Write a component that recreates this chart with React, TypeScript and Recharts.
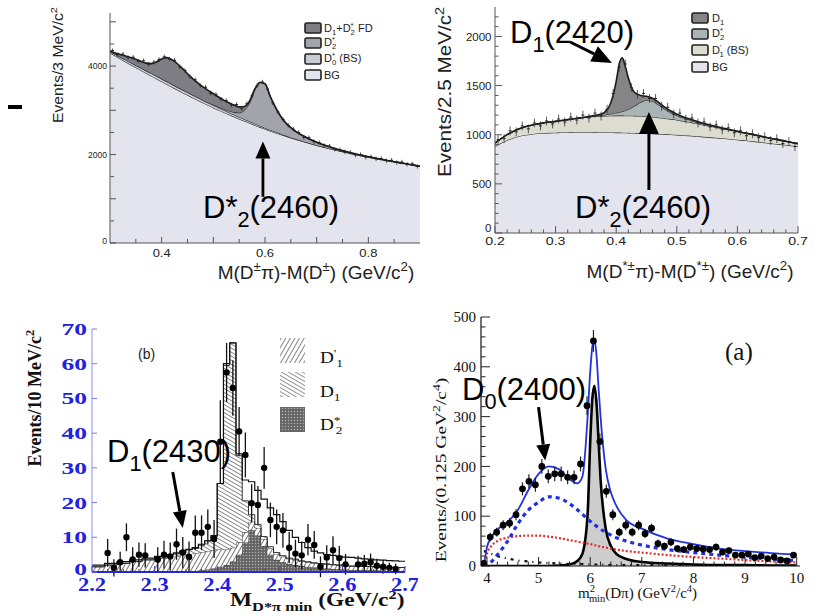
import React from 'react';
import { ComposedChart, Area, Line, Scatter, ErrorBar, XAxis, YAxis, ReferenceLine } from 'recharts';

const SANS = '"Liberation Sans", Arial, Helvetica, sans-serif';
const SERIF = '"Liberation Serif", "Times New Roman", serif';

// ---------- top left: M(D±π)-M(D±) ----------
const tlX = [0.30, 0.31, 0.32, 0.33, 0.34, 0.35, 0.36, 0.37, 0.38, 0.39, 0.40, 0.41, 0.42, 0.43, 0.44, 0.45, 0.46, 0.47, 0.48, 0.49, 0.50, 0.51, 0.52, 0.53, 0.54, 0.55, 0.56, 0.57, 0.58, 0.59, 0.60, 0.61, 0.62, 0.63, 0.64, 0.65, 0.66, 0.67, 0.68, 0.69, 0.70, 0.71, 0.72, 0.73, 0.74, 0.75, 0.76, 0.77, 0.78, 0.79, 0.80, 0.81, 0.82, 0.83, 0.84, 0.85, 0.86, 0.87, 0.88, 0.89, 0.90];
const tlBg = [4300, 4232, 4165, 4098, 4032, 3967, 3903, 3840, 3777, 3714, 3650, 3587, 3525, 3464, 3403, 3344, 3286, 3228, 3172, 3116, 3060, 3008, 2956, 2905, 2855, 2806, 2758, 2711, 2665, 2620, 2576, 2534, 2493, 2453, 2414, 2376, 2340, 2305, 2271, 2238, 2206, 2176, 2147, 2119, 2092, 2066, 2040, 2015, 1991, 1968, 1945, 1923, 1901, 1880, 1859, 1838, 1817, 1796, 1775, 1755, 1735];
const tlBs = [30, 34, 38, 42, 46, 50, 53, 56, 58, 60, 62, 63, 64, 64, 64, 63, 62, 60, 58, 56, 54, 52, 50, 47, 44, 41, 38, 35, 32, 29, 26, 23, 20, 17, 14, 12, 10, 8, 6, 5, 4, 3, 2, 1, 0, 0, 0, 0, 0, 0, 0, 0, 0, 0, 0, 0, 0, 0, 0, 0, 0];
const tlD2 = [0, 0, 0, 0, 0, 0, 0, 0, 0, 0, 0, 0, 0, 0, 0, 0, 0, 0, 0, 5, 10, 15, 25, 40, 60, 100, 210, 420, 760, 980, 1000, 760, 560, 400, 290, 220, 170, 135, 108, 86, 69, 55, 44, 35, 28, 22, 17, 13, 10, 7, 5, 3, 2, 1, 0, 0, 0, 0, 0, 0, 0];
const tlFd = [10, 30, 60, 90, 115, 135, 150, 170, 220, 320, 450, 540, 555, 530, 480, 420, 370, 330, 300, 275, 250, 225, 200, 180, 160, 130, 80, 40, 15, 0, 0, 0, 0, 0, 0, 0, 0, 0, 0, 0, 0, 0, 0, 0, 0, 0, 0, 0, 0, 0, 0, 0, 0, 0, 0, 0, 0, 0, 0, 0, 0];
const tlPtX = [0.305, 0.315, 0.325, 0.335, 0.345, 0.355, 0.365, 0.375, 0.385, 0.395, 0.405, 0.415, 0.425, 0.435, 0.445, 0.455, 0.465, 0.475, 0.485, 0.495, 0.505, 0.515, 0.525, 0.535, 0.545, 0.555, 0.565, 0.575, 0.585, 0.595, 0.605, 0.615, 0.625, 0.635, 0.645, 0.655, 0.665, 0.675, 0.685, 0.695, 0.705, 0.715, 0.725, 0.735, 0.745, 0.755, 0.765, 0.775, 0.785, 0.795, 0.805, 0.815, 0.825, 0.835, 0.845, 0.855, 0.865, 0.875, 0.885, 0.895];
const tlPtY = [4350, 4260, 4270, 4190, 4200, 4110, 4120, 4040, 4090, 4150, 4210, 4160, 4130, 3980, 3900, 3760, 3690, 3560, 3520, 3380, 3360, 3250, 3220, 3120, 3130, 3040, 3150, 3330, 3560, 3640, 3480, 3170, 2960, 2790, 2660, 2570, 2500, 2390, 2380, 2290, 2270, 2200, 2190, 2120, 2110, 2060, 2050, 1990, 2000, 1940, 1950, 1900, 1910, 1860, 1870, 1820, 1830, 1780, 1790, 1730];

// ---------- top right: M(D*±π)-M(D*±) ----------
const trX = [0.20, 0.21, 0.22, 0.23, 0.24, 0.25, 0.26, 0.27, 0.28, 0.29, 0.30, 0.31, 0.32, 0.33, 0.34, 0.35, 0.36, 0.37, 0.38, 0.39, 0.40, 0.405, 0.41, 0.415, 0.42, 0.425, 0.43, 0.44, 0.45, 0.46, 0.47, 0.48, 0.49, 0.50, 0.51, 0.52, 0.53, 0.54, 0.55, 0.56, 0.57, 0.58, 0.59, 0.60, 0.61, 0.62, 0.63, 0.64, 0.65, 0.66, 0.67, 0.68, 0.69, 0.70];
const trBg = [880, 915, 945, 968, 985, 997, 1006, 1012, 1016, 1019, 1021, 1023, 1024, 1025, 1025, 1025, 1025, 1024, 1023, 1023, 1022, 1022, 1021, 1020, 1019, 1018, 1017, 1015, 1012, 1010, 1007, 1004, 1002, 999, 995, 991, 986, 981, 976, 971, 966, 961, 955, 949, 943, 937, 930, 923, 916, 909, 902, 895, 888, 881];
const trBs = [35, 45, 56, 66, 75, 84, 91, 98, 104, 110, 115, 122, 130, 138, 146, 153, 159, 164, 168, 171, 173, 173, 174, 174, 175, 175, 175, 175, 174, 171, 167, 162, 157, 152, 145, 138, 131, 124, 117, 110, 103, 96, 90, 84, 78, 72, 66, 60, 54, 48, 43, 38, 33, 28];
const trD2 = [0, 0, 0, 0, 0, 0, 0, 0, 0, 0, 0, 0, 0, 0, 0, 0, 2, 5, 10, 18, 28, 35, 42, 52, 65, 82, 100, 140, 165, 160, 130, 95, 65, 45, 32, 23, 17, 12, 9, 6, 4, 3, 2, 1, 0, 0, 0, 0, 0, 0, 0, 0, 0, 0];
const trD1 = [0, 0, 0, 0, 0, 0, 0, 0, 0, 0, 0, 0, 0, 0, 1, 2, 5, 10, 25, 95, 320, 490, 545, 450, 320, 210, 140, 70, 40, 30, 25, 20, 17, 14, 12, 10, 8, 6, 5, 4, 3, 2, 1, 0, 0, 0, 0, 0, 0, 0, 0, 0, 0, 0];
const trPtX = [0.205, 0.215, 0.225, 0.235, 0.245, 0.255, 0.265, 0.275, 0.285, 0.295, 0.305, 0.315, 0.325, 0.335, 0.345, 0.355, 0.365, 0.375, 0.385, 0.395, 0.405, 0.415, 0.425, 0.435, 0.445, 0.455, 0.465, 0.475, 0.485, 0.495, 0.505, 0.515, 0.525, 0.535, 0.545, 0.555, 0.565, 0.575, 0.585, 0.595, 0.605, 0.615, 0.625, 0.635, 0.645, 0.655, 0.665, 0.675, 0.685, 0.695];
const trPtY = [950, 960, 1040, 1030, 1090, 1060, 1120, 1090, 1140, 1110, 1160, 1130, 1180, 1150, 1200, 1170, 1220, 1190, 1260, 1420, 1690, 1720, 1480, 1410, 1420, 1370, 1370, 1290, 1280, 1210, 1220, 1160, 1170, 1120, 1130, 1080, 1100, 1050, 1070, 1020, 1040, 990, 1010, 970, 980, 940, 960, 910, 930, 880];

// ---------- bottom left: M_D*π min histogram ----------
const blEdges = [2.20, 2.21, 2.22, 2.23, 2.24, 2.25, 2.26, 2.27, 2.28, 2.29, 2.30, 2.31, 2.32, 2.33, 2.34, 2.35, 2.36, 2.37, 2.38, 2.39, 2.40, 2.41, 2.42, 2.43, 2.44, 2.45, 2.46, 2.47, 2.48, 2.49, 2.50, 2.51, 2.52, 2.53, 2.54, 2.55, 2.56, 2.57, 2.58, 2.59, 2.60, 2.61, 2.62, 2.63, 2.64, 2.65, 2.66, 2.67, 2.68, 2.69, 2.70];
const blD2s = [0, 0, 0, 0, 0, 0, 0, 0, 0, 0, 0, 0, 0, 0, 0, 0.2, 0.3, 0.5, 0.7, 1, 1.5, 2, 3, 5, 8.5, 12, 10.5, 7.5, 5, 3.5, 2.8, 2.3, 2, 1.7, 1.5, 1.3, 1.1, 1, 0.9, 0.8, 0.7, 0.6, 0.6, 0.5, 0.5, 0.4, 0.4, 0.3, 0.3, 0.3, 0.3];
const blD1p = [1.5, 1.5, 2, 2, 2.5, 2.5, 3, 3, 3.5, 3.5, 4, 4, 4.5, 4.5, 5, 5, 5, 5.2, 5.3, 5.2, 5, 4.5, 4, 3.5, 3, 2.5, 2.2, 2, 1.8, 1.7, 1.6, 1.5, 1.5, 1.4, 1.4, 1.3, 1.3, 1.3, 1.2, 1.2, 1.2, 1.1, 1.1, 1.1, 1.1, 1, 1, 1, 1, 1, 1];
const blD1 = [0, 0, 0, 0, 0, 0, 0, 0, 0, 0, 0.3, 0.4, 0.5, 0.7, 0.9, 1.2, 1.5, 2, 3, 4, 19, 53, 59, 25, 9, 2, 1, 0.7, 0.5, 0.4, 0.3, 0.2, 0.2, 0.1, 0, 0, 0, 0, 0, 0, 0, 0, 0, 0, 0, 0, 0, 0, 0, 0, 0];
const blTot = [2, 2, 2.5, 2.5, 3, 3, 3.5, 3.5, 4, 4, 4.5, 4.5, 5, 5.5, 6, 6.5, 7, 8, 9, 10.5, 25.5, 60, 66, 34, 26.5, 26, 23.5, 21, 18.5, 16.5, 14.5, 12, 10, 8.5, 7, 6, 5.5, 5, 4.8, 4.5, 4.3, 4.2, 4, 3.8, 3.7, 3.5, 3.4, 3.3, 3.2, 3.1, 3.1];
const blPtX = [2.225, 2.235, 2.245, 2.255, 2.265, 2.275, 2.285, 2.305, 2.315, 2.325, 2.335, 2.345, 2.355, 2.365, 2.375, 2.385, 2.395, 2.405, 2.415, 2.425, 2.435, 2.445, 2.455, 2.465, 2.475, 2.485, 2.495, 2.505, 2.515, 2.525, 2.535, 2.545, 2.555, 2.565, 2.575, 2.585, 2.595, 2.605, 2.625, 2.635, 2.645, 2.655, 2.665, 2.675, 2.685];
const blPtY = [5.5, 1.2, 2.8, 10, 3.6, 5, 4.8, 3.6, 5, 4.5, 8, 5.6, 4.3, 11.3, 11.3, 13, 9.5, 37.5, 57.5, 53, 40.5, 33.7, 19.8, 19.3, 30, 15, 13, 12, 7, 5.3, 4.8, 9.3, 7.8, 1.5, 4.2, 6.3, 4, 2.2, 2.2, 2.4, 2.8, 1.8, 1.5, 1.2, 0.9];
const blPtErr = [4, 2.5, 3, 4, 3.5, 3.5, 3.5, 3.5, 4, 4, 4.5, 4.5, 4.5, 5, 5, 5, 5.5, 12, 8.5, 8, 7, 6.5, 5.5, 5.5, 6, 5, 5, 5, 4.5, 4, 4, 4.5, 4, 3, 3.5, 4, 3.5, 3, 2.5, 2.5, 2.5, 2, 2, 1.5, 1.5];

// ---------- bottom right: m²min(Dπ) ----------
const brX = [3.94, 4.0, 4.1, 4.2, 4.4, 4.6, 4.8, 5.0, 5.2, 5.4, 5.6, 5.75, 5.85, 5.95, 6.0, 6.04, 6.08, 6.12, 6.16, 6.2, 6.3, 6.4, 6.5, 6.7, 7.0, 7.5, 8.0, 8.5, 9.0, 9.5, 10.0];
const brTot = [0, 38, 60, 73, 88, 113, 152, 185, 200, 194, 174, 166, 180, 300, 390, 440, 455, 425, 360, 300, 195, 148, 122, 92, 75, 55, 44, 35, 30, 26, 23];
const brD0 = [0, 2, 10, 22, 50, 85, 112, 128, 139, 136, 125, 113, 104, 94, 90, 86, 83, 80, 77, 74, 68, 62, 57, 50, 42, 33, 27, 22, 18, 14, 11];
const brRed = [0, 25, 42, 50, 57, 60, 61, 61, 59, 56, 52, 49, 47, 45, 44, 43, 42, 41, 40, 39, 37, 35, 33, 30, 27, 22, 18, 15, 12, 9, 7];
const brD2 = [0, 0, 0, 0, 0, 0, 0, 0, 0, 1, 3, 10, 25, 105, 250, 335, 362, 330, 255, 175, 75, 40, 25, 14, 8, 5, 3, 2, 2, 1, 1];
const brBkg = [30, 28, 24, 20, 15, 11, 9, 7, 6, 5, 4, 4, 4, 3, 3, 3, 3, 3, 3, 3, 3, 2, 2, 2, 2, 1, 1, 1, 1, 1, 1];
const brPtX = [3.9375, 4.0625, 4.1875, 4.3125, 4.4375, 4.5625, 4.6875, 4.8125, 4.9375, 5.0625, 5.1875, 5.3125, 5.4375, 5.5625, 5.6875, 5.8125, 5.9375, 6.0625, 6.1875, 6.3125, 6.4375, 6.5625, 6.6875, 6.8125, 6.9375, 7.0625, 7.1875, 7.3125, 7.4375, 7.5625, 7.6875, 7.8125, 7.9375, 8.0625, 8.1875, 8.3125, 8.4375, 8.5625, 8.6875, 8.8125, 8.9375, 9.0625, 9.1875, 9.3125, 9.4375, 9.5625, 9.6875, 9.8125, 9.9375];
const brPtY = [5, 58, 68, 82, 86, 103, 155, 170, 163, 200, 180, 185, 185, 178, 178, 205, 322, 452, 250, 150, 103, 68, 82, 68, 82, 65, 76, 45, 40, 48, 35, 33, 38, 35, 34, 33, 38, 28, 31, 22, 22, 24, 17, 20, 15, 18, 12, 10, 22];
const brPtErr = [4, 9, 9, 10, 10, 11, 13, 14, 14, 15, 14, 15, 15, 14, 14, 15, 19, 22, 16, 13, 11, 9, 10, 9, 10, 9, 9, 8, 7, 8, 7, 7, 7, 7, 7, 7, 7, 6, 6, 6, 6, 6, 5, 5, 5, 5, 4, 4, 6];

// tick positions
const steps = (a: number, b: number, d: number) => {
  const out: number[] = [];
  for (let v = a; v <= b + d / 1000; v += d) out.push(Math.round(v * 1e6) / 1e6);
  return out;
};
const tlXTicks = steps(0.35, 0.85, 0.05);
const tlYTicks = steps(0, 5000, 500);
const trXTicks = steps(0.2, 0.7, 0.02);
const trYTicks = steps(0, 2200, 100);
const blXTicks = steps(2.2, 2.7, 0.025);
const blYTicks = steps(0, 70, 10);
const brXTicks = steps(4, 10, 0.2);
const brYTicks = steps(0, 500, 20);

const tlRows = tlX.map((x, i) => ({ x, bg: tlBg[i], bs: tlBs[i], d2: tlD2[i], fd: tlFd[i] }));
const tlPts = tlPtX.map((x, i) => ({ x, y: tlPtY[i], e: 50 }));
const trRows = trX.map((x, i) => ({ x, bg: trBg[i], bs: trBs[i], d2: trD2[i], d1: trD1[i] }));
const trPts = trPtX.map((x, i) => ({ x, y: trPtY[i], e: 45 }));
const blRows = blEdges.map((x, i) => ({ x, d2s: blD2s[i], d1p: blD1p[i], d1: blD1[i], tot: blTot[i] }));
const blPts = blPtX.map((x, i) => ({ x, y: blPtY[i], e: blPtErr[i] }));
const brRows = brX.map((x, i) => ({ x, tot: brTot[i], d0: brD0[i], red: brRed[i], d2: brD2[i], bkg: brBkg[i] }));
const brPts = brPtX.map((x, i) => ({ x, y: brPtY[i], e: brPtErr[i] }));

// ---------- helpers ----------
type TickOpt = {
  side: 'bottom' | 'left' | 'top' | 'right';
  labels?: number[];
  majors?: number[];
  L?: number;
  l?: number;
  off?: number;
  lift0?: number;
  font?: string;
  size?: number;
  weight?: number | string;
  color?: string;
  line?: string;
  sx?: number;
  fmt?: (v: number) => string;
};
const near = (arr: number[] | undefined, v: number) => !!arr && arr.some((a) => Math.abs(a - v) < 1e-6);

const mkTick = (o: TickOpt) => (p: any) => {
  const v = Number(p.payload?.value);
  const len = near(o.majors, v) ? o.L ?? 6 : o.l ?? 3;
  const stroke = o.line ?? '#000';
  const label = near(o.labels, v) ? (o.fmt ? o.fmt(v) : String(v)) : null;
  const ts = { fontFamily: o.font ?? SANS, fontSize: o.size ?? 11, fontWeight: o.weight ?? 400, fill: o.color ?? '#000' };
  const sx = o.sx ?? 1;
  const off = o.off ?? 4;
  const { x, y } = p;
  if (o.side === 'bottom')
    return (
      <g>
        <line x1={x} x2={x} y1={y} y2={y - len} stroke={stroke} />
        {label !== null && (
          <text transform={`translate(${x},${y + off}) scale(${sx},1)`} textAnchor="middle" style={ts}>
            {label}
          </text>
        )}
      </g>
    );
  if (o.side === 'top') return <line x1={x} x2={x} y1={y} y2={y + len} stroke={stroke} />;
  if (o.side === 'left') {
    const ly = v === 0 ? y - (o.lift0 ?? 0) : y;
    return (
      <g>
        <line x1={x} x2={x + len} y1={y} y2={y} stroke={stroke} />
        {label !== null && (
          <text transform={`translate(${x - off},${ly}) scale(${sx},1)`} textAnchor="end" dy="0.35em" style={ts}>
            {label}
          </text>
        )}
      </g>
    );
  }
  return <line x1={x} x2={x - len} y1={y} y2={y} stroke={stroke} />;
};

const mkArrow = (head: number, half: number, w: number) => (p: any) => {
  const { x1, y1, x2, y2 } = p;
  const L = Math.hypot(x2 - x1, y2 - y1) || 1;
  const ux = (x2 - x1) / L;
  const uy = (y2 - y1) / L;
  const bx = x2 - ux * head;
  const by = y2 - uy * head;
  return (
    <g>
      <line x1={x1} y1={y1} x2={bx} y2={by} stroke="#000" strokeWidth={w} />
      <polygon points={`${x2},${y2} ${bx - uy * half},${by + ux * half} ${bx + uy * half},${by - ux * half}`} fill="#000" />
    </g>
  );
};

const tinyMark = (p: any) => <line x1={p.cx - 1.5} x2={p.cx + 1.5} y1={p.cy} y2={p.cy} stroke="#222" strokeWidth={1} />;
const blackDot = (r: number) => (p: any) => <circle cx={p.cx} cy={p.cy} r={r} fill="#000" />;

type Part = [string, number, number?];
const Rich = ({ parts, fs }: { parts: Part[]; fs: number }) => {
  let prev = 0;
  return (
    <>
      {parts.map(([t, k, dx], i) => {
        const s = k === 1 ? -0.4 * fs : k === -1 ? 0.28 * fs : 0;
        const dy = s - prev;
        prev = s;
        return (
          <tspan key={i} dy={dy || undefined} dx={dx} fontSize={k ? fs * 0.7 : fs}>
            {t}
          </tspan>
        );
      })}
    </>
  );
};

const noDot = { dot: false as const, activeDot: false as const, isAnimationActive: false };

// ---------- panels ----------
function PanelTL() {
  return (
    <ComposedChart width={430} height={300} data={tlRows} margin={{ top: 13, right: 10, bottom: 0, left: 0 }}>
      <XAxis dataKey="x" type="number" domain={[0.3, 0.9]} allowDataOverflow ticks={tlXTicks} interval={0} height={57}
        tickSize={0} tickMargin={0} tickLine={false} axisLine={{ stroke: '#555' }}
        tick={mkTick({ side: 'bottom', labels: [0.4, 0.6, 0.8], majors: [0.4, 0.5, 0.6, 0.7, 0.8], L: 6, l: 4, off: 14, size: 10, sx: 1.3, color: '#222', line: '#555', fmt: (v) => v.toFixed(1) })} />
      <XAxis xAxisId="top" orientation="top" type="number" domain={[0.3, 0.9]} allowDataOverflow height={0} tick={false} tickLine={false} axisLine={{ stroke: '#aaa' }} />
      <YAxis type="number" domain={[0, 5200]} allowDataOverflow ticks={tlYTicks} interval={0} width={110}
        tickSize={0} tickMargin={0} tickLine={false} axisLine={{ stroke: '#555' }}
        tick={mkTick({ side: 'left', labels: [0, 2000, 4000], majors: [0, 1000, 2000, 3000, 4000, 5000], L: 6, l: 4, off: 3, lift0: 2, size: 8.5, color: '#222', line: '#555' })} />
      <Area dataKey="bg" stackId="s" type="monotone" fill="#e4e4ee" fillOpacity={1} stroke="#2a2a2a" strokeWidth={1.1} {...noDot} />
      <Area dataKey="bs" stackId="s" type="monotone" fill="#cacad3" fillOpacity={1} stroke="#2a2a2a" strokeWidth={1.1} {...noDot} />
      <Area dataKey="d2" stackId="s" type="monotone" fill="#a3a3ab" fillOpacity={1} stroke="#2a2a2a" strokeWidth={1.1} {...noDot} />
      <Area dataKey="fd" stackId="s" type="monotone" fill="#7e7e84" fillOpacity={1} stroke="#1a1a1a" strokeWidth={1.6} {...noDot} />
      <Scatter data={tlPts} dataKey="y" shape={tinyMark} isAnimationActive={false}>
        <ErrorBar dataKey="e" direction="y" width={0} stroke="#333" strokeWidth={0.8} isAnimationActive={false} />
      </Scatter>
      <ReferenceLine segment={[{ x: 0.596, y: 1045 }, { x: 0.596, y: 2296 }]} shape={mkArrow(17, 7.5, 2.8)} />
    </ComposedChart>
  );
}

function PanelTR() {
  return (
    <ComposedChart width={400} height={300} data={trRows} margin={{ top: 7, right: 22, bottom: 0, left: 0 }}>
      <XAxis dataKey="x" type="number" domain={[0.2, 0.7]} allowDataOverflow ticks={trXTicks} interval={0} height={67}
        tickSize={0} tickMargin={0} tickLine={false} axisLine={{ stroke: '#555' }}
        tick={mkTick({ side: 'bottom', labels: [0.2, 0.3, 0.4, 0.5, 0.6, 0.7], majors: [0.2, 0.3, 0.4, 0.5, 0.6, 0.7], L: 7, l: 3.5, off: 12, size: 10.5, sx: 1.35, color: '#222', line: '#555', fmt: (v) => v.toFixed(1) })} />
      <XAxis xAxisId="top" orientation="top" type="number" domain={[0.2, 0.7]} allowDataOverflow height={0} tick={false} tickLine={false} axisLine={{ stroke: '#999' }} />
      <YAxis type="number" domain={[0, 2300]} allowDataOverflow ticks={trYTicks} interval={0} width={75}
        tickSize={0} tickMargin={0} tickLine={false} axisLine={{ stroke: '#555' }}
        tick={mkTick({ side: 'left', labels: [0, 500, 1000, 1500, 2000], majors: [0, 500, 1000, 1500, 2000], L: 7, l: 3.5, off: 3.5, lift0: 5, size: 11.5, color: '#222', line: '#555' })} />
      <YAxis yAxisId="right" orientation="right" type="number" domain={[0, 2300]} allowDataOverflow width={0} tick={false} tickLine={false} axisLine={{ stroke: '#555' }} />
      <Area dataKey="bg" stackId="s" type="monotone" fill="#e4e4ee" fillOpacity={1} stroke="#2a2a2a" strokeWidth={1.1} {...noDot} />
      <Area dataKey="bs" stackId="s" type="monotone" fill="#dcdcd1" fillOpacity={1} stroke="#2a2a2a" strokeWidth={1.1} {...noDot} />
      <Area dataKey="d2" stackId="s" type="monotone" fill="#a9b4b4" fillOpacity={1} stroke="#2a2a2a" strokeWidth={1.1} {...noDot} />
      <Area dataKey="d1" stackId="s" type="monotone" fill="#858587" fillOpacity={1} stroke="#1a1a1a" strokeWidth={1.6} {...noDot} />
      <Scatter data={trPts} dataKey="y" shape={tinyMark} isAnimationActive={false}>
        <ErrorBar dataKey="e" direction="y" width={0} stroke="#333" strokeWidth={0.8} isAnimationActive={false} />
      </Scatter>
      <ReferenceLine segment={[{ x: 0.324, y: 1944 }, { x: 0.393, y: 1731 }]} shape={mkArrow(20, 8.5, 3)} />
      <ReferenceLine segment={[{ x: 0.454, y: 438 }, { x: 0.454, y: 1232 }]} shape={mkArrow(22, 10, 3)} />
    </ComposedChart>
  );
}

function PanelBL() {
  return (
    <ComposedChart width={418} height={316} data={blRows} margin={{ top: 29, right: 13, bottom: 0, left: 0 }}>
      <defs>
        <pattern id="hA" width="4" height="4" patternUnits="userSpaceOnUse" patternTransform="rotate(30)">
          <rect width="4" height="4" fill="#fff" />
          <line x1="0.5" y1="0" x2="0.5" y2="4" stroke="#555" strokeWidth="0.8" />
        </pattern>
        <pattern id="hB" width="3.5" height="3.5" patternUnits="userSpaceOnUse" patternTransform="rotate(-60)">
          <rect width="3.5" height="3.5" fill="#fff" />
          <line x1="0.5" y1="0" x2="0.5" y2="3.5" stroke="#555" strokeWidth="0.7" />
        </pattern>
        <pattern id="hC" width="3" height="3" patternUnits="userSpaceOnUse">
          <rect width="3" height="3" fill="#707070" />
          <rect x="0" y="0" width="1" height="1" fill="#b0b0b0" />
          <rect x="1.5" y="1.5" width="1" height="1" fill="#3c3c3c" />
        </pattern>
      </defs>
      <XAxis dataKey="x" type="number" domain={[2.2, 2.7]} allowDataOverflow ticks={blXTicks} interval={0} height={44}
        tickSize={0} tickMargin={0} tickLine={false} axisLine={{ stroke: '#2626d6', strokeWidth: 2 }}
        tick={mkTick({ side: 'bottom', labels: [2.2, 2.3, 2.4, 2.5, 2.6, 2.7], majors: [2.2, 2.3, 2.4, 2.5, 2.6, 2.7], L: 6, l: 3, off: 19, font: SERIF, size: 18, weight: 700, sx: 1.25, color: '#2020e6', line: '#3a3ad0', fmt: (v) => v.toFixed(1) })} />
      <XAxis xAxisId="top" orientation="top" type="number" domain={[2.2, 2.7]} allowDataOverflow height={0} tick={false} tickLine={false} axisLine={{ stroke: '#8c8cf0' }} />
      <YAxis type="number" domain={[0, 70]} allowDataOverflow ticks={blYTicks} interval={0} width={92}
        tickSize={0} tickMargin={0} tickLine={false} axisLine={{ stroke: '#8c8cf0' }}
        tick={mkTick({ side: 'left', labels: blYTicks, majors: blYTicks, L: 5, l: 3, off: 5, lift0: 3, font: SERIF, size: 17, weight: 700, sx: 1.5, color: '#2020e6', line: '#7a7ae8' })} />
      <YAxis yAxisId="right" orientation="right" type="number" domain={[0, 70]} allowDataOverflow width={0} tick={false} tickLine={false} axisLine={{ stroke: '#8c8cf0' }} />
      <Area dataKey="d2s" stackId="h" type="stepAfter" fill="url(#hC)" fillOpacity={1} stroke="#222" strokeWidth={0.8} {...noDot} />
      <Area dataKey="d1p" stackId="h" type="stepAfter" fill="url(#hA)" fillOpacity={1} stroke="#222" strokeWidth={0.8} {...noDot} />
      <Area dataKey="d1" stackId="h" type="stepAfter" fill="url(#hB)" fillOpacity={1} stroke="#222" strokeWidth={0.9} {...noDot} />
      <Line dataKey="tot" type="stepAfter" stroke="#111" strokeWidth={1.2} {...noDot} />
      <Scatter data={blPts} dataKey="y" shape={blackDot(3.2)} isAnimationActive={false}>
        <ErrorBar dataKey="e" direction="y" width={0} stroke="#111" strokeWidth={1.3} isAnimationActive={false} />
      </Scatter>
      <ReferenceLine segment={[{ x: 2.329, y: 28.8 }, { x: 2.345, y: 12.7 }]} shape={mkArrow(17, 7, 3)} />
    </ComposedChart>
  );
}

function PanelBR() {
  const xt = { majors: [4, 5, 6, 7, 8, 9, 10], L: 9, l: 4.5 };
  const yt = { majors: [0, 100, 200, 300, 400, 500], L: 9, l: 4.5 };
  return (
    <ComposedChart width={400} height={316} data={brRows} margin={{ top: 17, right: 20, bottom: 0, left: 0 }}>
      <XAxis dataKey="x" type="number" domain={[3.884, 10.064]} allowDataOverflow ticks={brXTicks} interval={0} height={50}
        tickSize={0} tickMargin={0} tickLine={false} axisLine={{ stroke: '#111', strokeWidth: 1.2 }}
        tick={mkTick({ side: 'bottom', labels: [4, 5, 6, 7, 8, 9, 10], ...xt, off: 17, font: SERIF, size: 15, color: '#111', line: '#222' })} />
      <XAxis xAxisId="top" orientation="top" type="number" domain={[3.884, 10.064]} allowDataOverflow ticks={brXTicks} interval={0} height={0}
        tickSize={0} tickMargin={0} tickLine={false} axisLine={{ stroke: '#111', strokeWidth: 1.2 }}
        tick={mkTick({ side: 'top', ...xt, line: '#222' })} />
      <YAxis type="number" domain={[0, 500]} allowDataOverflow ticks={brYTicks} interval={0} width={61}
        tickSize={0} tickMargin={0} tickLine={false} axisLine={{ stroke: '#111', strokeWidth: 1.2 }}
        tick={mkTick({ side: 'left', labels: [0, 100, 200, 300, 400, 500], ...yt, off: 5, font: SERIF, size: 15, color: '#111', line: '#222' })} />
      <YAxis yAxisId="right" orientation="right" type="number" domain={[0, 500]} allowDataOverflow ticks={brYTicks} interval={0} width={0}
        tickSize={0} tickMargin={0} tickLine={false} axisLine={{ stroke: '#111', strokeWidth: 1.2 }}
        tick={mkTick({ side: 'right', ...yt, line: '#222' })} />
      <Area dataKey="d2" type="monotone" fill="#cdcdcd" fillOpacity={1} stroke="#000" strokeWidth={2.6} {...noDot} />
      <Line dataKey="bkg" type="monotone" stroke="#111" strokeWidth={2.2} strokeDasharray="3 5 1 5" {...noDot} />
      <Line dataKey="red" type="monotone" stroke="#e52a2a" strokeWidth={2.2} strokeDasharray="2 2" {...noDot} />
      <Line dataKey="d0" type="monotone" stroke="#1f2fe6" strokeWidth={3.2} strokeDasharray="4 4" {...noDot} />
      <Line dataKey="tot" type="monotone" stroke="#2233dd" strokeWidth={1.8} {...noDot} />
      <Scatter data={brPts} dataKey="y" shape={blackDot(3.4)} isAnimationActive={false}>
        <ErrorBar dataKey="e" direction="y" width={0} stroke="#222" strokeWidth={1.2} isAnimationActive={false} />
      </Scatter>
      <ReferenceLine segment={[{ x: 4.999, y: 319 }, { x: 5.128, y: 212 }]} shape={mkArrow(16, 7, 3)} />
    </ComposedChart>
  );
}

// ---------- overlay text ----------
const legendBox = (x: number, y: number, w: number, h: number, fill: string, key: string) => (
  <rect key={key} x={x} y={y} width={w} height={h} rx={1.5} fill={fill} stroke="#222" strokeWidth={1.6} />
);

function Overlay() {
  const big = { fontFamily: SANS, fontSize: 31, fill: '#000' };
  const tlLeg: { y: number; b: number; fill: string; parts: Part[] }[] = [
    { y: 23, b: 32, fill: '#7e7e84', parts: [['D', 0], ['1', -1], ['+D', 0], ['*', 1], ['2', -1, -3], [' FD', 0]] },
    { y: 38, b: 46, fill: '#a3a3ab', parts: [['D', 0], ['*', 1], ['2', -1, -3]] },
    { y: 54, b: 62, fill: '#cacad3', parts: [['D', 0], ['*', 1], ['0', -1, -3], [' (BS)', 0]] },
    { y: 70, b: 79, fill: '#e4e4ee', parts: [['BG', 0]] },
  ];
  const trLeg: { y: number; b: number; fill: string; parts: Part[] }[] = [
    { y: 13, b: 22, fill: '#858587', parts: [['D', 0], ['1', -1]] },
    { y: 29, b: 37, fill: '#a9b4b4', parts: [['D', 0], ['*', 1], ['2', -1, -3]] },
    { y: 45, b: 54, fill: '#dcdcd1', parts: [['D', 0], ["'", 1], ['1', -1, -2], [' (BS)', 0]] },
    { y: 62, b: 71, fill: '#e4e4ee', parts: [['BG', 0]] },
  ];
  return (
    <svg width={820} height={616} style={{ position: 'absolute', left: 0, top: 0, pointerEvents: 'none' }}>
      <defs>
        <pattern id="lgA" width="4" height="4" patternUnits="userSpaceOnUse" patternTransform="rotate(30)">
          <rect width="4" height="4" fill="#fff" />
          <line x1="0.5" y1="0" x2="0.5" y2="4" stroke="#666" strokeWidth="0.8" />
        </pattern>
        <pattern id="lgB" width="3.5" height="3.5" patternUnits="userSpaceOnUse" patternTransform="rotate(-60)">
          <rect width="3.5" height="3.5" fill="#fff" />
          <line x1="0.5" y1="0" x2="0.5" y2="3.5" stroke="#666" strokeWidth="0.7" />
        </pattern>
        <pattern id="lgC" width="3" height="3" patternUnits="userSpaceOnUse">
          <rect width="3" height="3" fill="#707070" />
          <rect x="0" y="0" width="1" height="1" fill="#b0b0b0" />
          <rect x="1.5" y="1.5" width="1" height="1" fill="#3c3c3c" />
        </pattern>
      </defs>

      {/* stray mark on the left */}
      <rect x={8} y={105} width={14} height={4} fill="#000" />

      {/* top left */}
      <text transform="translate(63,65) rotate(-90) scale(1.12,1)" textAnchor="middle" style={{ fontFamily: SANS, fontSize: 14, fill: '#222' }}>
        <Rich parts={[['Events/3 MeV/c', 0], ['2', 1]]} fs={14} />
      </text>
      <text x={316} y={279} textAnchor="middle" style={{ fontFamily: SANS, fontSize: 19, fill: '#222' }}>
        <Rich parts={[['M(D', 0], ['±', 1], ['π)-M(D', 0], ['±', 1], [') (GeV/c', 0], ['2', 1], [')', 0]]} fs={19} />
      </text>
      {tlLeg.map((r, i) => legendBox(305, r.y, 16, 10, r.fill, `tl${i}`))}
      {tlLeg.map((r, i) => (
        <text key={`tlt${i}`} x={324} y={r.b} style={{ fontFamily: SANS, fontSize: 11, fill: '#222' }}>
          <Rich parts={r.parts} fs={11} />
        </text>
      ))}
      <text x={203} y={218} style={big}>
        <Rich parts={[['D*', 0], ['2', -1], ['(2460)', 0]]} fs={31} />
      </text>

      {/* top right */}
      <text transform="translate(451,92) rotate(-90) scale(1.15,1)" textAnchor="middle" style={{ fontFamily: SANS, fontSize: 18, fill: '#222' }}>
        <Rich parts={[['Events/2.5 MeV/c', 0], ['2', 1]]} fs={18} />
      </text>
      <text x={690} y={278} textAnchor="middle" style={{ fontFamily: SANS, fontSize: 19, fill: '#222' }}>
        <Rich parts={[['M(D', 0], ['*±', 1], ['π)-M(D', 0], ['*±', 1], [') (GeV/c', 0], ['2', 1], [')', 0]]} fs={19} />
      </text>
      {trLeg.map((r, i) => legendBox(692, r.y, 16, 10, r.fill, `tr${i}`))}
      {trLeg.map((r, i) => (
        <text key={`trt${i}`} x={712} y={r.b} style={{ fontFamily: SANS, fontSize: 11, fill: '#222' }}>
          <Rich parts={r.parts} fs={11} />
        </text>
      ))}
      <text x={510} y={43} style={big}>
        <Rich parts={[['D', 0], ['1', -1], ['(2420)', 0]]} fs={31} />
      </text>
      <text x={575} y={218} style={big}>
        <Rich parts={[['D*', 0], ['2', -1], ['(2460)', 0]]} fs={31} />
      </text>

      {/* bottom left */}
      <text transform="translate(41,398) rotate(-90)" textAnchor="middle" style={{ fontFamily: SERIF, fontSize: 18, fontWeight: 700, fill: '#111' }}>
        <Rich parts={[['Events/10 MeV/c', 0], ['2', 1]]} fs={18} />
      </text>
      <text transform="translate(230,606) scale(1.3,1)" style={{ fontFamily: SERIF, fontSize: 18, fontWeight: 700, fill: '#111' }}>
        <Rich parts={[['M', 0], ['D*π min', -1], [' (GeV/c', 0], ['2', 1], [')', 0]]} fs={18} />
      </text>
      <text x={138} y={359} style={{ fontFamily: SANS, fontSize: 14, fill: '#222' }}>(b)</text>
      <rect x={280} y={338} width={25} height={25} fill="url(#lgA)" />
      <rect x={280} y={372} width={25} height={25} fill="url(#lgB)" />
      <rect x={280} y={407} width={25} height={25} fill="url(#lgC)" />
      <text transform="translate(320,363) scale(1.2,1)" style={{ fontFamily: SERIF, fontSize: 16, fill: '#111' }}>
        <Rich parts={[['D', 0], ["'", 1], ['1', -1]]} fs={16} />
      </text>
      <text transform="translate(320,397) scale(1.2,1)" style={{ fontFamily: SERIF, fontSize: 16, fill: '#111' }}>
        <Rich parts={[['D', 0], ['1', -1]]} fs={16} />
      </text>
      <text transform="translate(320,430) scale(1.2,1)" style={{ fontFamily: SERIF, fontSize: 16, fill: '#111' }}>
        <Rich parts={[['D', 0], ['*', 1], ['2', -1, -4]]} fs={16} />
      </text>
      <text x={107} y={462} style={big}>
        <Rich parts={[['D', 0], ['1', -1], ['(2430)', 0]]} fs={31} />
      </text>

      {/* bottom right */}
      <text transform="translate(446,470) rotate(-90) scale(1.3,1)" textAnchor="middle" style={{ fontFamily: SERIF, fontSize: 15, fill: '#111' }}>
        <Rich parts={[['Events/(0.125 GeV', 0], ['2', 1], ['/c', 0], ['4', 1], [')', 0]]} fs={15} />
      </text>
      <text x={578} y={598} style={{ fontFamily: SERIF, fontSize: 15, fill: '#111' }}>
        <Rich parts={[['m', 0], ['2', 1], ['min', -1, -6], ['(Dπ) (GeV', 0], ['2', 1], ['/c', 0], ['4', 1], [')', 0]]} fs={15} />
      </text>
      <text x={725} y={360} style={{ fontFamily: SERIF, fontSize: 25, fill: '#111' }}>(a)</text>
      <text x={462} y={400} style={big}>
        <Rich parts={[['D', 0], ['0', -1], ['(2400)', 0]]} fs={31} />
      </text>
    </svg>
  );
}

export default function App() {
  return (
    <div style={{ position: 'relative', width: 820, height: 616, background: '#fff', overflow: 'hidden' }}>
      <style>{'body{margin:0}'}</style>
      <div style={{ position: 'absolute', left: 0, top: 0 }}>
        <PanelTL />
      </div>
      <div style={{ position: 'absolute', left: 420, top: 0 }}>
        <PanelTR />
      </div>
      <div style={{ position: 'absolute', left: 0, top: 300 }}>
        <PanelBL />
      </div>
      <div style={{ position: 'absolute', left: 420, top: 300 }}>
        <PanelBR />
      </div>
      <Overlay />
    </div>
  );
}
